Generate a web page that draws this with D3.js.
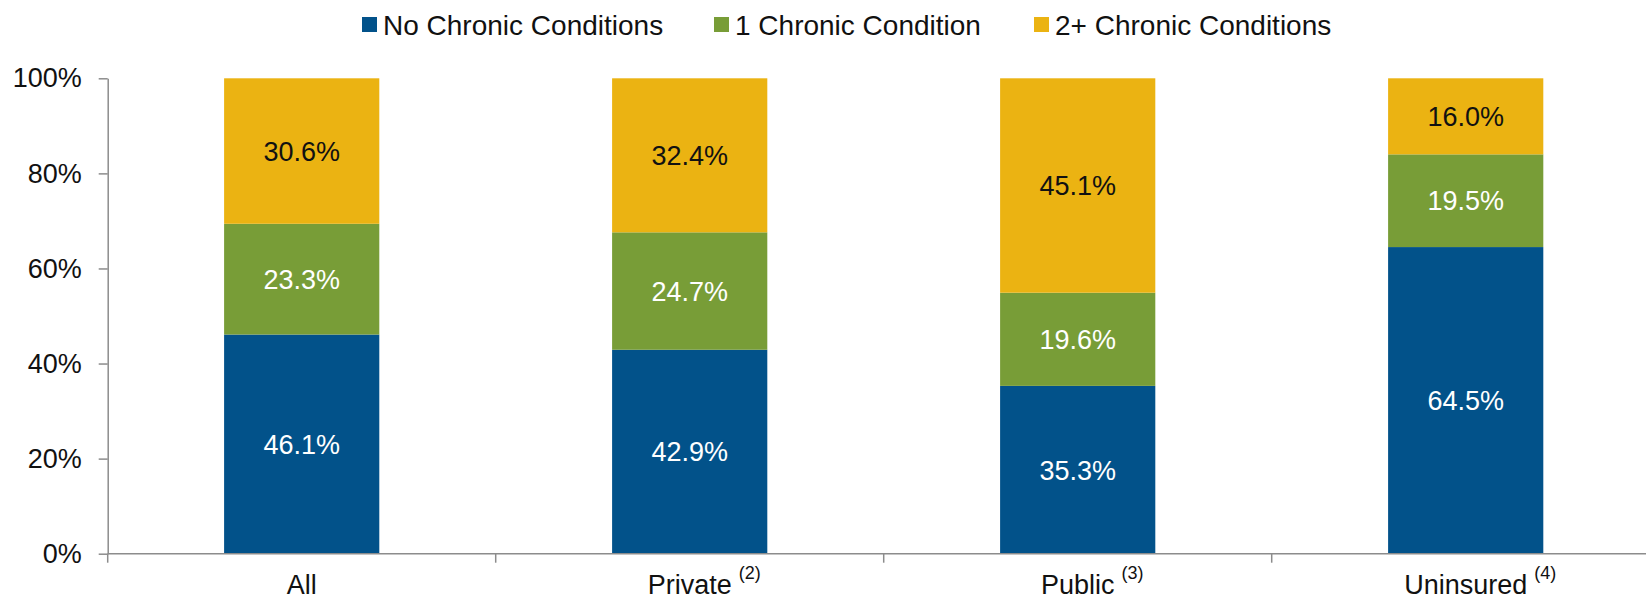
<!DOCTYPE html>
<html>
<head>
<meta charset="utf-8">
<script src="https://cdn.jsdelivr.net/npm/d3@7"></script>
<style>
    body { margin: 0; background: #fff; }
    svg text { font-family: "Liberation Sans", Arial, sans-serif; }
</style>
</head>
<body>
<div id="chart"></div>
<script>
// chart data
const categories = ["All", "Private", "Public", "Uninsured"];
const footnotes = ["", "(2)", "(3)", "(4)"];
const seriesNames = ["No Chronic Conditions", "1 Chronic Condition", "2+ Chronic Conditions"];
const noChronic = [46.1, 42.9, 35.3, 64.5];
const oneChronic = [23.3, 24.7, 19.6, 19.5];
const twoPlusChronic = [30.6, 32.4, 45.1, 16.0];
const yTicks = [0, 20, 40, 60, 80, 100];

const colors = ["#02528a", "#789d37", "#ebb312"];
const labelColors = ["#ffffff", "#ffffff", "#111111"];

const width = 1646, height = 599;
const margin = {top: 78.3, left: 107.7, bottom: 599 - 553.7};
const plotRight = 1659.7;

const svg = d3.select("#chart").append("svg")
    .attr("width", width)
    .attr("height", height);

const x = d3.scaleBand()
    .domain(categories)
    .range([margin.left, plotRight])
    .paddingInner(0.6)
    .paddingOuter(0.3);

const y = d3.scaleLinear()
    .domain([0, 100])
    .range([height - margin.bottom, margin.top]);

// build rows for stacking
const rows = categories.map((c, i) => ({
    cat: c,
    [seriesNames[0]]: noChronic[i],
    [seriesNames[1]]: oneChronic[i],
    [seriesNames[2]]: twoPlusChronic[i]
}));

const stacked = d3.stack().keys(seriesNames)(rows);

// bars
const layers = svg.selectAll("g.layer")
    .data(stacked)
    .join("g")
    .attr("class", "layer")
    .attr("fill", (d, i) => colors[i]);

layers.selectAll("rect")
    .data(d => d)
    .join("rect")
    .attr("x", d => x(d.data.cat))
    .attr("width", x.bandwidth())
    .attr("y", d => y(d[1]))
    .attr("height", d => y(d[0]) - y(d[1]));

// value labels
stacked.forEach((layer, i) => {
    svg.append("g").selectAll("text")
        .data(layer)
        .join("text")
        .attr("x", d => x(d.data.cat) + x.bandwidth() / 2)
        .attr("y", d => (y(d[0]) + y(d[1])) / 2)
        .attr("dy", "0.36em")
        .attr("text-anchor", "middle")
        .attr("fill", labelColors[i])
        .style("font-size", "27px")
        .text(d => (d[1] - d[0]).toFixed(1) + "%");
});

// y axis
const yAxis = svg.append("g")
    .attr("transform", `translate(${margin.left},0)`)
    .call(d3.axisLeft(y)
        .tickValues(yTicks)
        .tickFormat(d => d + "%")
        .tickSizeInner(9)
        .tickSizeOuter(0)
        .tickPadding(17));
yAxis.selectAll("text").style("font-size", "27px").attr("fill", "#111");
yAxis.selectAll("line, path").attr("stroke", "#8c8c8c").attr("stroke-width", 1.5);

// x axis line and category separators
const axisY = y(0);
svg.append("line")
    .attr("x1", margin.left).attr("x2", width)
    .attr("y1", axisY).attr("y2", axisY)
    .attr("stroke", "#8c8c8c").attr("stroke-width", 1.5);

const gap = (x.step() - x.bandwidth()) / 2;
svg.append("g").selectAll("line")
    .data(categories)
    .join("line")
    .attr("x1", d => x(d) - gap)
    .attr("x2", d => x(d) - gap)
    .attr("y1", axisY)
    .attr("y2", axisY + 9)
    .attr("stroke", "#8c8c8c").attr("stroke-width", 1.5);

// category labels with footnote superscripts
const xl = svg.append("g").selectAll("text")
    .data(categories)
    .join("text")
    .attr("x", d => x(d) + x.bandwidth() / 2)
    .attr("y", axisY + 40.5)
    .attr("text-anchor", "start")
    .attr("fill", "#111")
    .style("font-size", "27px");

xl.each(function (d, i) {
    const t = d3.select(this);
    t.append("tspan").text(d);
    const w = this.getComputedTextLength();
    t.attr("x", x(d) + x.bandwidth() / 2 - w / 2);
    if (footnotes[i]) {
        t.append("tspan")
            .attr("dx", 7)
            .attr("dy", -15)
            .style("font-size", "18px")
            .text(footnotes[i]);
    }
});

// legend
const legendX = [362, 714, 1034];
const legend = svg.append("g").selectAll("g")
    .data(seriesNames)
    .join("g")
    .attr("transform", (d, i) => `translate(${legendX[i]},17)`);

legend.append("rect")
    .attr("width", 15)
    .attr("height", 15)
    .attr("fill", (d, i) => colors[i]);

legend.append("text")
    .attr("x", 21)
    .attr("y", 7.5)
    .attr("dy", "0.36em")
    .attr("fill", "#111")
    .style("font-size", "28px")
    .text(d => d);
</script>
</body>
</html>
